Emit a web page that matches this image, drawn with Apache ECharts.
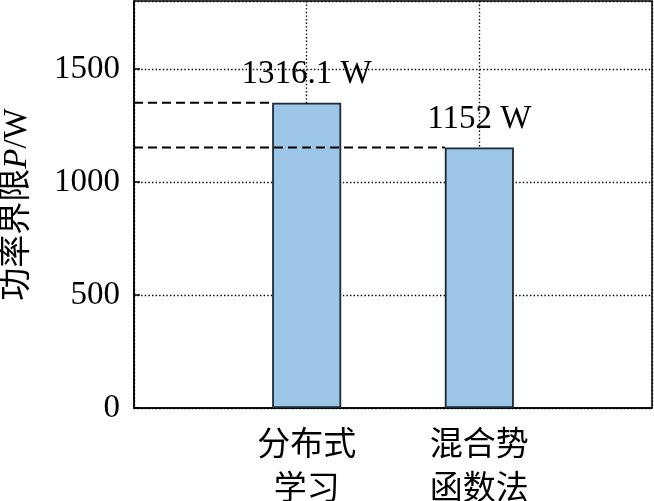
<!DOCTYPE html>
<html lang="zh">

<head>
    <meta charset="UTF-8">
    <title>功率界限</title>
    <style>
        html, body { margin: 0; padding: 0; background: #fff; }
    </style>
</head>

<body>
    <div id="main" style="width:654px;height:501px;"></div>
    <script src="https://cdn.jsdelivr.net/npm/echarts@6/dist/echarts.min.js"></script>
    <script>
        // 数据
        var categories = ['', '分布式\n学习', '混合势\n函数法', ''];
        var barValues = [1350, 1152];          // 柱高
        var valueLabels = ['1316.1 W', '1152 W'];
        var yTicks = [0, 500, 1000, 1500];

        var fontFam = "'Liberation Serif', 'Noto Sans CJK SC', serif";
        var barHalf = 0.2; // 柱宽 40% 的一半（以类目间距为单位）

        var myChart = echarts.init(document.getElementById('main'));

        var barData = [null];
        for (var i = 0; i < barValues.length; i++) {
            barData.push({
                value: barValues[i],
                label: { formatter: valueLabels[i] }
            });
        }
        barData.push(null);

        // 虚线：从纵轴到柱子左边
        var dashSeries = [];
        for (var k = 0; k < barValues.length; k++) {
            dashSeries.push({
                type: 'line',
                xAxisIndex: 1,
                z: 5,
                symbol: 'none',
                silent: true,
                lineStyle: { color: '#000', width: 2, type: [9, 5] },
                data: [[0, barValues[k]], [k + 1 - barHalf, barValues[k]]]
            });
        }

        var option = {
            animation: false,
            textStyle: { fontFamily: fontFam },
            grid: {
                left: 134,
                right: 2,
                top: 1,
                bottom: 93,
                outerBoundsMode: 'none',
                containLabel: false,
                show: true,
                borderColor: '#000',
                borderWidth: 1.5,
                backgroundColor: 'transparent'
            },
            xAxis: [{
                type: 'category',
                data: categories,
                boundaryGap: false,
                axisLine: { lineStyle: { color: '#000', width: 1.5 } },
                axisTick: { show: false },
                axisLabel: {
                    color: '#000',
                    fontSize: 33,
                    lineHeight: 44,
                    margin: 16,
                    fontFamily: fontFam,
                    interval: 0
                },
                splitLine: {
                    show: true,
                    lineStyle: { color: '#000', width: 1.4, type: [1.4, 2.2] }
                }
            }, {
                type: 'value',
                min: 0,
                max: categories.length - 1,
                show: false
            }],
            yAxis: {
                type: 'value',
                min: 0,
                max: 1800,
                interval: 500,
                name: '{a|功率界限}{b|P}{a|/W}',
                nameLocation: 'middle',
                nameGap: 100,
                nameTextStyle: {
                    rich: {
                        a: { fontSize: 33, color: '#000', fontFamily: fontFam },
                        b: { fontSize: 33, color: '#000', fontFamily: fontFam, fontStyle: 'italic' }
                    }
                },
                axisLine: { show: true, lineStyle: { color: '#000', width: 1.5 } },
                axisTick: { show: true, inside: true, length: 6, lineStyle: { color: '#000', width: 1.5 } },
                axisLabel: {
                    color: '#000',
                    fontSize: 33,
                    margin: 14,
                    fontFamily: fontFam,
                    showMaxLabel: false,
                    formatter: function (v) {
                        return yTicks.indexOf(v) >= 0 ? String(v) : '';
                    }
                },
                splitLine: {
                    show: true,
                    lineStyle: { color: '#000', width: 1.4, type: [1.4, 2.2] }
                }
            },
            series: [{
                type: 'bar',
                data: barData,
                barWidth: '40%',
                itemStyle: {
                    color: '#9DC6E6',
                    borderColor: '#1c2a38',
                    borderWidth: 1.8
                },
                label: {
                    show: true,
                    position: 'top',
                    distance: 12,
                    color: '#000',
                    fontSize: 33,
                    fontFamily: fontFam
                }
            }].concat(dashSeries)
        };
        myChart.setOption(option);
    </script>
</body>

</html>
